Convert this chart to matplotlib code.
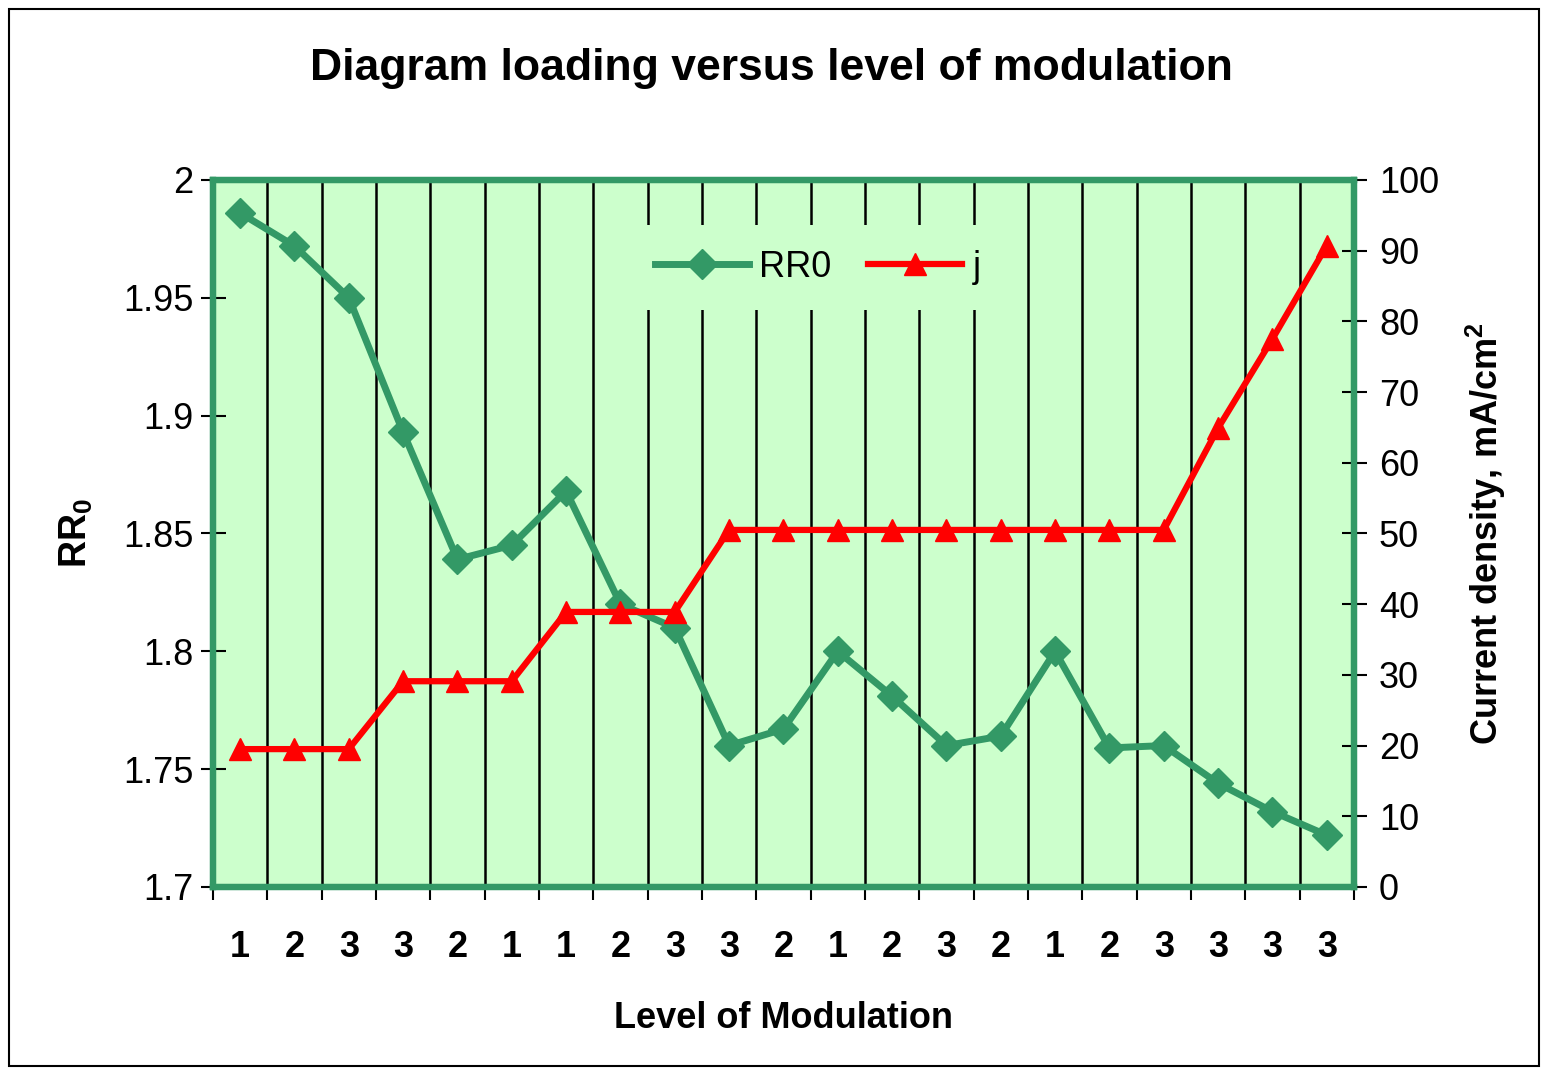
import matplotlib.pyplot as plt
from matplotlib.patches import Rectangle

plt.rcParams['font.family'] = ['Liberation Sans', 'DejaVu Sans']
plt.rcParams['mathtext.fontset'] = 'custom'
plt.rcParams['mathtext.rm'] = 'Liberation Sans'
plt.rcParams['mathtext.bf'] = 'Liberation Sans:bold'

# Data
levels = ['1', '2', '3', '3', '2', '1', '1', '2', '3', '3', '2',
          '1', '2', '3', '2', '1', '2', '3', '3', '3', '3']
rr0 = [1.986, 1.972, 1.950, 1.893, 1.839, 1.845, 1.868, 1.820, 1.810, 1.760, 1.767,
       1.800, 1.781, 1.760, 1.764, 1.800, 1.759, 1.760, 1.744, 1.732, 1.722]
j = [19.5, 19.5, 19.5, 29.1, 29.1, 29.1, 38.9, 38.9, 38.9, 50.5, 50.5,
     50.5, 50.5, 50.5, 50.5, 50.5, 50.5, 50.5, 64.9, 77.5, 90.7]

green = '#339966'
bg = '#CCFFCC'
x = list(range(len(levels)))

fig = plt.figure(figsize=(15.42, 10.68), dpi=100)
ax = fig.add_axes([0.1381, 0.1695, 0.7399, 0.662])
ax.set_facecolor(bg)
ax2 = ax.twinx()

l1, = ax.plot(x, rr0, color=green, lw=5, marker='D', markersize=15, label='RR0', zorder=3)
l2, = ax2.plot(x, j, color='red', lw=4.5, marker='^', markersize=16, label='j', zorder=3)

ax.set_xlim(-0.5, len(levels) - 0.5)
ax.set_ylim(1.7, 2.0)
ax2.set_ylim(0, 100)
ax.set_yticks([1.7, 1.75, 1.8, 1.85, 1.9, 1.95, 2.0])
ax.set_yticklabels(['1.7', '1.75', '1.8', '1.85', '1.9', '1.95', '2'])
ax2.set_yticks(range(0, 101, 10))

# labels at category centres, tick marks and grid at the boundaries
ax.set_xticks(x)
ax.set_xticklabels(levels, fontweight='bold')
ax.set_xticks([i - 0.5 for i in range(len(levels) + 1)], minor=True)
ax.tick_params(axis='x', which='major', length=0, pad=31, labelsize=26)
ax.tick_params(axis='x', which='minor', direction='out', length=9, width=1.5)
ax.grid(axis='x', which='minor', color='black', lw=1.8)
ax.tick_params(axis='y', direction='inout', length=18, width=1.5, pad=5, labelsize=26)
ax2.tick_params(axis='y', direction='inout', length=18, width=1.5, pad=9, labelsize=26)

for a in (ax, ax2):
    for s in a.spines.values():
        s.set_color(green)
        s.set_linewidth(4.5)
ax.axvline(-0.5, color='black', lw=1.5, zorder=4)
ax.axvline(len(levels) - 0.5, color='black', lw=1.5, zorder=4)
ax.axhline(1.7, color='black', lw=1.5, zorder=4)

ax.set_xlabel('Level of Modulation', fontsize=26, fontweight='bold', labelpad=26)
ax.set_ylabel(r'RR$_{\mathbf{0}}$', fontsize=27, fontweight='bold', labelpad=20)
ax2.set_ylabel(r'Current density, mA/cm$^{\mathbf{2}}$', fontsize=26, fontweight='bold', labelpad=18)
fig.suptitle('Diagram loading versus level of modulation', fontsize=32, fontweight='bold', y=0.955)

leg = ax2.legend([l1, l2], ['RR0', 'j'], loc='center', bbox_to_anchor=(0.53, 0.876),
                 ncol=2, frameon=True, facecolor=bg, edgecolor='none', framealpha=1,
                 fontsize=26, handlelength=2.6, handletextpad=0.3, columnspacing=1.0,
                 borderpad=0.7, borderaxespad=0)

fig.add_artist(Rectangle((0.006, 0.002), 0.992, 0.99, transform=fig.transFigure,
                         fill=False, edgecolor='black', lw=1.5))

fig.savefig('out.png', dpi=100)
